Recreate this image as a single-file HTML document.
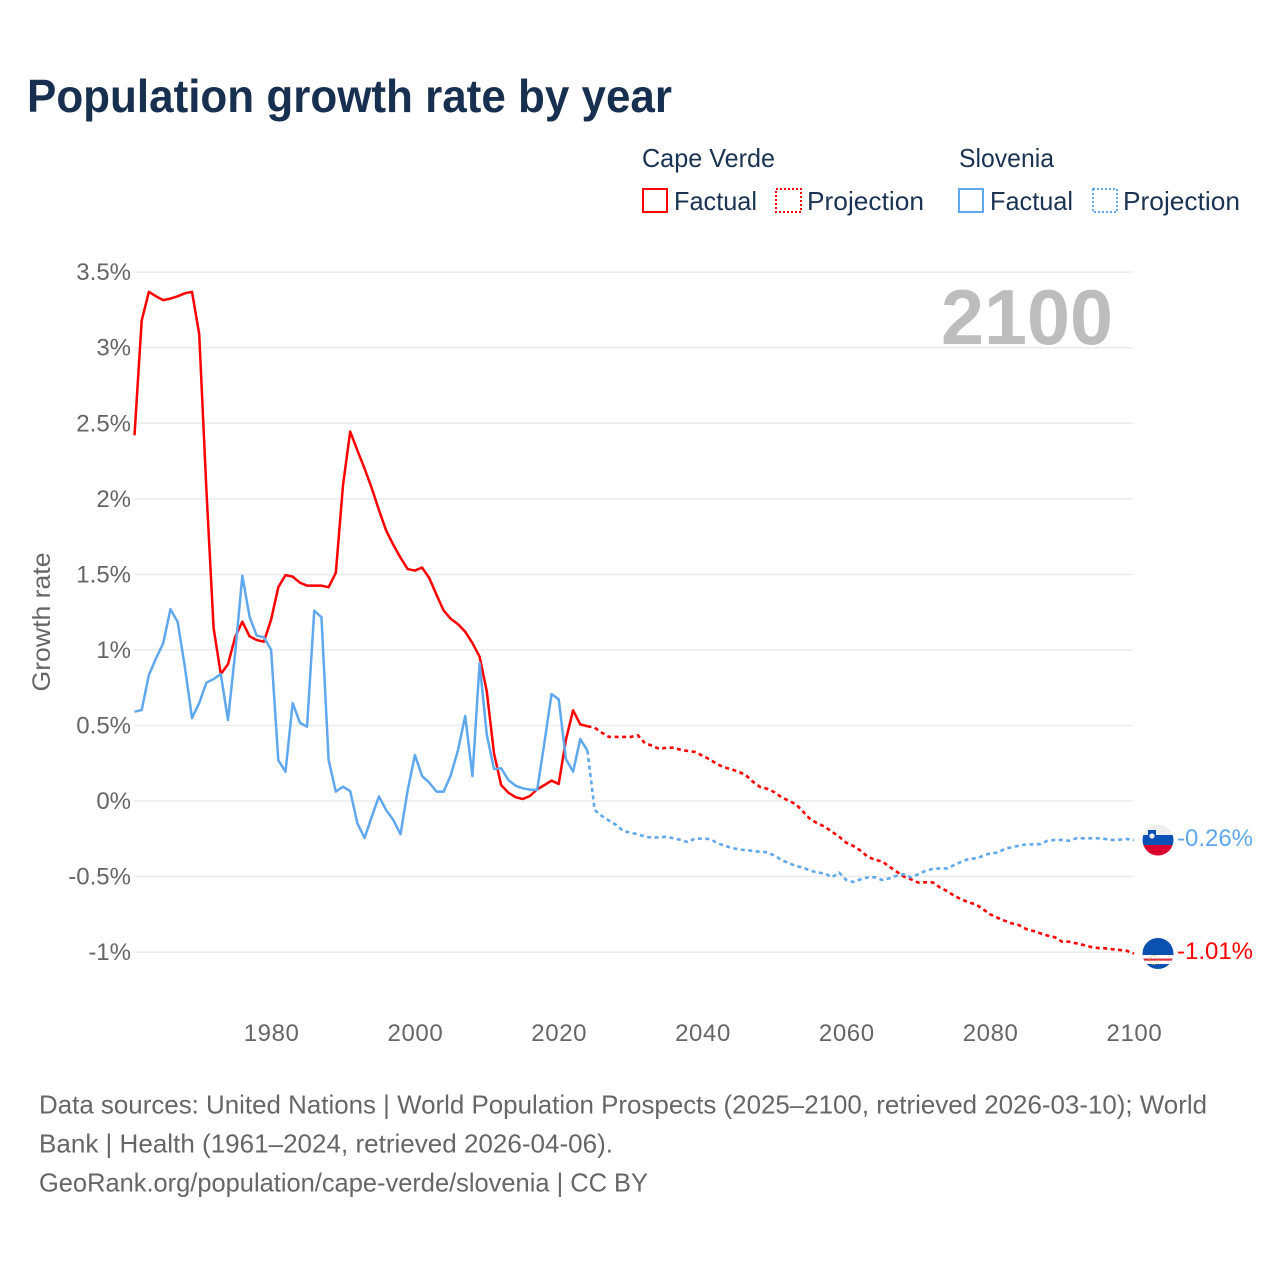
<!DOCTYPE html>
<html lang="en">
<head>
<meta charset="utf-8">
<title>Population growth rate by year</title>
<style>
html,body{margin:0;padding:0;background:#fff;width:1280px;height:1280px;overflow:hidden}
svg{display:block}
text{font-family:"Liberation Sans",sans-serif}
.tick{font-size:24px;fill:#666}
.leg{font-size:26px;fill:#1a3352}
.foot{font-size:26px;fill:#666}
</style>
</head>
<body>
<svg id="chart" xmlns="http://www.w3.org/2000/svg" width="1280" height="1280" viewBox="0 0 1280 1280">
  <rect width="1280" height="1280" fill="#fff"/>
  <text x="27" y="112" font-size="46" font-weight="700" fill="#18304f" textLength="645" lengthAdjust="spacingAndGlyphs">Population growth rate by year</text>

  <g>
    <text class="leg" x="642" y="167" textLength="133" lengthAdjust="spacingAndGlyphs">Cape Verde</text>
    <text class="leg" x="959" y="167" textLength="95" lengthAdjust="spacingAndGlyphs">Slovenia</text>
    <g>
      <rect x="643" y="189" width="24" height="23" fill="none" stroke="#ff0000" stroke-width="2"/>
      <text class="leg" x="674" y="210" textLength="83" lengthAdjust="spacingAndGlyphs">Factual</text>
    </g>
    <g>
      <rect x="776" y="189" width="25" height="23" fill="none" stroke="#ff0000" stroke-width="2" stroke-dasharray="2 2"/>
      <text class="leg" x="807" y="210" textLength="117" lengthAdjust="spacingAndGlyphs">Projection</text>
    </g>
    <g>
      <rect x="959" y="189" width="24" height="23" fill="none" stroke="#5fa8ee" stroke-width="2"/>
      <text class="leg" x="990" y="210" textLength="83" lengthAdjust="spacingAndGlyphs">Factual</text>
    </g>
    <g>
      <rect x="1093" y="189" width="24" height="23" fill="none" stroke="#5fa8ee" stroke-width="2" stroke-dasharray="2 2"/>
      <text class="leg" x="1123" y="210" textLength="117" lengthAdjust="spacingAndGlyphs">Projection</text>
    </g>
  </g>

  <text transform="translate(50 622) rotate(-90)" text-anchor="middle" font-size="25" fill="#666" textLength="139" lengthAdjust="spacingAndGlyphs">Growth rate</text>

  <g id="grid"></g>
  <g id="yticks"></g>
  <g id="xticks"></g>

  <text x="941" y="344" font-size="78" font-weight="700" fill="#bdbdbd" textLength="172" lengthAdjust="spacingAndGlyphs">2100</text>

  <g id="series"></g>

  <defs>
    <clipPath id="clip-si"><circle cx="1158" cy="840" r="15.5"/></clipPath>
    <clipPath id="clip-cv"><circle cx="1158" cy="953.5" r="15.5"/></clipPath>
  </defs>
  <g clip-path="url(#clip-si)">
    <rect x="1142" y="824" width="32" height="11" fill="#eeeeee"/>
    <rect x="1142" y="835" width="32" height="10" fill="#0a51b5"/>
    <rect x="1142" y="845" width="32" height="11" fill="#d9002f"/>
    <path d="M1148 830h8v6q0 3-4 4q-4-1-4-4z" fill="#0a51b5"/>
    <circle cx="1152" cy="836" r="2.6" fill="#eeeeee"/>
  </g>
  <g clip-path="url(#clip-cv)">
    <rect x="1142" y="938" width="32" height="32" fill="#0a51b0"/>
    <rect x="1142" y="955" width="32" height="9" fill="#ffffff"/>
    <rect x="1142" y="958.5" width="32" height="2.2" fill="#d9333f"/>
    <circle cx="1154" cy="960" r="4.5" fill="none" stroke="#e6c24a" stroke-width="0.9" stroke-dasharray="1 1"/>
  </g>
  <text x="1177" y="846" font-size="24" fill="#5fa8ee" textLength="76" lengthAdjust="spacingAndGlyphs">-0.26%</text>
  <text x="1177" y="959" font-size="24" fill="#ff0000" textLength="76" lengthAdjust="spacingAndGlyphs">-1.01%</text>

  <g>
    <text class="foot" x="39" y="1113.5" textLength="1168" lengthAdjust="spacingAndGlyphs">Data sources: United Nations | World Population Prospects (2025–2100, retrieved 2026-03-10); World</text>
    <text class="foot" x="39" y="1152.5" textLength="574" lengthAdjust="spacingAndGlyphs">Bank | Health (1961–2024, retrieved 2026-04-06).</text>
    <text class="foot" x="39" y="1191.5" textLength="609" lengthAdjust="spacingAndGlyphs">GeoRank.org/population/cape-verde/slovenia | CC BY</text>
  </g>
</svg>
<script>
const firstYear = 1961;
const yTickValues = [3.5, 3, 2.5, 2, 1.5, 1, 0.5, 0, -0.5, -1];
const yTickLabels = ["3.5%", "3%", "2.5%", "2%", "1.5%", "1%", "0.5%", "0%", "-0.5%", "-1%"];
const xTickValues = [1980, 2000, 2020, 2040, 2060, 2080, 2100];
const xTickLabels = ["1980", "2000", "2020", "2040", "2060", "2080", "2100"];

const capeVerdeFactual = [2.42,3.18,3.37,3.34,3.315,3.325,3.34,3.36,3.37,3.09,2.06,1.145,0.84,0.905,1.085,1.187,1.09,1.065,1.055,1.2,1.415,1.495,1.485,1.445,1.425,1.425,1.425,1.415,1.51,2.09,2.445,2.32,2.2,2.07,1.925,1.79,1.695,1.61,1.535,1.525,1.545,1.475,1.365,1.26,1.205,1.17,1.12,1.045,0.955,0.725,0.315,0.105,0.055,0.025,0.013,0.033,0.077,0.105,0.135,0.113,0.405,0.6,0.507,0.495];
const capeVerdeProjection = [0.485,0.452,0.424,0.424,0.424,0.424,0.435,0.382,0.366,0.344,0.353,0.353,0.338,0.331,0.324,0.3,0.276,0.245,0.223,0.21,0.194,0.172,0.128,0.093,0.081,0.058,0.024,0.002,-0.022,-0.071,-0.121,-0.148,-0.17,-0.203,-0.236,-0.276,-0.298,-0.329,-0.369,-0.39,-0.4,-0.435,-0.468,-0.5,-0.518,-0.54,-0.538,-0.538,-0.571,-0.596,-0.627,-0.651,-0.67,-0.684,-0.715,-0.75,-0.772,-0.792,-0.81,-0.821,-0.847,-0.86,-0.876,-0.891,-0.902,-0.931,-0.931,-0.942,-0.953,-0.966,-0.973,-0.975,-0.981,-0.986,-0.991,-1.01];
const sloveniaFactual = [0.591,0.602,0.834,0.945,1.045,1.27,1.185,0.889,0.549,0.648,0.783,0.807,0.84,0.536,0.98,1.491,1.22,1.094,1.084,1.0,0.27,0.194,0.648,0.518,0.492,1.26,1.216,0.27,0.062,0.095,0.066,-0.148,-0.245,-0.104,0.03,-0.06,-0.126,-0.22,0.073,0.304,0.165,0.121,0.062,0.062,0.172,0.338,0.563,0.165,0.911,0.437,0.212,0.216,0.139,0.101,0.084,0.075,0.073,0.382,0.708,0.673,0.278,0.194,0.41,0.333];
const sloveniaProjection = [-0.06,-0.099,-0.13,-0.159,-0.199,-0.21,-0.22,-0.236,-0.243,-0.24,-0.236,-0.247,-0.258,-0.273,-0.247,-0.251,-0.251,-0.276,-0.296,-0.309,-0.32,-0.326,-0.329,-0.337,-0.339,-0.362,-0.39,-0.412,-0.43,-0.441,-0.461,-0.474,-0.479,-0.505,-0.474,-0.523,-0.536,-0.518,-0.505,-0.505,-0.523,-0.512,-0.494,-0.485,-0.505,-0.485,-0.463,-0.45,-0.446,-0.446,-0.424,-0.402,-0.384,-0.379,-0.364,-0.346,-0.342,-0.318,-0.306,-0.296,-0.287,-0.287,-0.285,-0.263,-0.258,-0.258,-0.263,-0.247,-0.247,-0.247,-0.247,-0.251,-0.258,-0.256,-0.251,-0.26];

const NS = "http://www.w3.org/2000/svg";
function xScale(year) { return 134.5 + (year - 1961) * 7.19; }
function yScale(value) { return 801 - value * 151.1; }

const gridGroup = document.getElementById("grid");
const yTickGroup = document.getElementById("yticks");
const xTickGroup = document.getElementById("xticks");
const seriesGroup = document.getElementById("series");

yTickValues.forEach(function (v, i) {
  const line = document.createElementNS(NS, "line");
  
  
  line.setAttribute("x1", 134);
  line.setAttribute("x2", 1133);
  line.setAttribute("y1", yScale(v));
  line.setAttribute("y2", yScale(v));
  line.setAttribute("stroke", "#ebebeb");
  line.setAttribute("stroke-width", "1.5");
  gridGroup.appendChild(line);

  const label = document.createElementNS(NS, "text");
  
  
  label.setAttribute("class", "tick");
  label.setAttribute("x", 131);
  label.setAttribute("y", yScale(v) + 8);
  label.setAttribute("text-anchor", "end");
  label.textContent = yTickLabels[i];
  yTickGroup.appendChild(label);
});

xTickValues.forEach(function (v, i) {
  const label = document.createElementNS(NS, "text");
  
  
  label.setAttribute("class", "tick");
  label.setAttribute("x", xScale(v) + 0.5);
  label.setAttribute("y", 1041);
  label.setAttribute("text-anchor", "middle");
  label.setAttribute("letter-spacing", "0.6");
  label.textContent = xTickLabels[i];
  xTickGroup.appendChild(label);
});

function linePath(values, startYear) {
  return values.map(function (v, i) {
    return (i ? "L" : "M") + xScale(startYear + i).toFixed(2) + " " + yScale(v).toFixed(2);
  }).join("");
}

function drawLine(path, color, dashed) {
  const el = document.createElementNS(NS, "path");
  el.setAttribute("d", path);
  el.setAttribute("fill", "none");
  el.setAttribute("stroke", color);
  el.setAttribute("stroke-width", dashed ? "2.6" : "2.5");
  el.setAttribute("stroke-linejoin", "round");
  if (dashed) el.setAttribute("stroke-dasharray", "4 3.5");
  seriesGroup.appendChild(el);
  return el;
}

const lastCapeVerdeFactual = capeVerdeFactual[capeVerdeFactual.length - 1];
const lastSloveniaFactual = sloveniaFactual[sloveniaFactual.length - 1];
const projectionStart = firstYear + capeVerdeFactual.length - 1;

const cvProjectionLine = drawLine(linePath([lastCapeVerdeFactual].concat(capeVerdeProjection), projectionStart), "#ff0000", true);



const cvFactualLine = drawLine(linePath(capeVerdeFactual, firstYear), "#ff0000", false);



const siProjectionLine = drawLine(linePath([lastSloveniaFactual].concat(sloveniaProjection), projectionStart), "#5fa8ee", true);



const siFactualLine = drawLine(linePath(sloveniaFactual, firstYear), "#5fa8ee", false);


</script>
</body>
</html>
